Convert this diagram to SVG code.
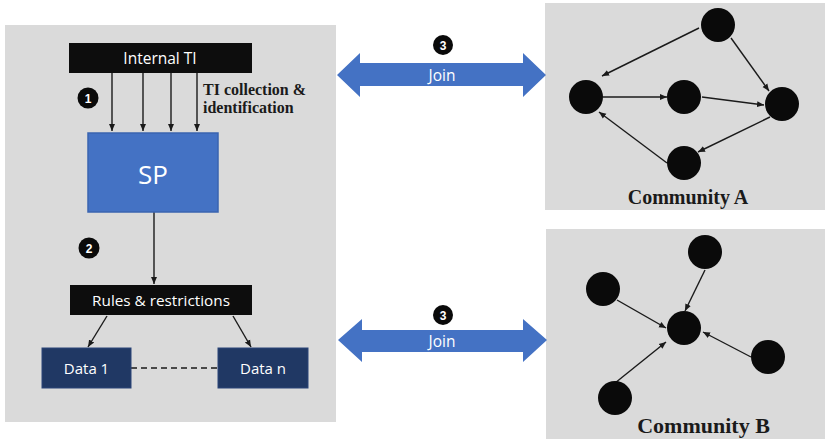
<svg xmlns="http://www.w3.org/2000/svg" width="827" height="439" viewBox="0 0 827 439">
<style>
.panel{fill:#dadada}
.bar{fill:#0d0d0d}
.data{fill:#203864;stroke:#2a4478;stroke-width:1}
.lbl{font-family:"Open Sans","Liberation Sans",sans-serif;fill:#ffffff;text-anchor:middle}
.serif{font-family:"Liberation Serif","Times New Roman",serif;font-weight:bold;fill:#1a1a1a}
.edge{stroke:#1a1a1a;stroke-width:1.4;fill:none;marker-end:url(#ah)}
.node{fill:#0a0a0a}
.num{fill:#0a0a0a}
.numt{font-family:"Liberation Sans",sans-serif;font-weight:bold;font-size:12px;fill:#fff;text-anchor:middle}
.join{fill:#4472c4}
</style>
<defs>
<marker id="ah" markerWidth="8" markerHeight="8" refX="7" refY="4" orient="auto" markerUnits="userSpaceOnUse">
<path d="M0,1 L7,4 L0,7 Z" fill="#1a1a1a"/>
</marker>
</defs>
<rect width="827" height="439" fill="#ffffff"/>

<rect id="left-panel" class="panel" x="5" y="25" width="331" height="397"/>
<rect id="community-a-panel" class="panel" x="545" y="3" width="280" height="207"/>
<rect id="community-b-panel" class="panel" x="546" y="229" width="279" height="210"/>

<g id="connectors">
<line class="edge" x1="112" y1="73" x2="112" y2="131"/>
<line class="edge" x1="143" y1="73" x2="143" y2="131"/>
<line class="edge" x1="171" y1="73" x2="171" y2="131"/>
<line class="edge" x1="197" y1="73" x2="197" y2="131"/>
<line class="edge" x1="154" y1="212" x2="154" y2="284"/>
<line class="edge" x1="107" y1="316" x2="88" y2="347"/>
<line class="edge" x1="233" y1="316" x2="251" y2="347"/>
<line x1="131" y1="368" x2="218" y2="368" stroke="#1a1a1a" stroke-width="1.4" stroke-dasharray="6,4"/>
<!-- Community A -->
<line class="edge" x1="699" y1="28" x2="602" y2="76"/>
<line class="edge" x1="603" y1="97" x2="667" y2="97"/>
<line class="edge" x1="702" y1="97" x2="764" y2="105"/>
<line class="edge" x1="731" y1="38" x2="769" y2="91"/>
<line class="edge" x1="770" y1="117" x2="698" y2="152"/>
<line class="edge" x1="667" y1="163" x2="599" y2="112"/>
<!-- Community B -->
<line class="edge" x1="705" y1="270" x2="685" y2="311"/>
<line class="edge" x1="617" y1="300" x2="666" y2="328"/>
<line class="edge" x1="751" y1="357" x2="703" y2="332"/>
<line class="edge" x1="615" y1="383" x2="666" y2="342"/>
</g>

<g id="internal-ti">
<rect class="bar" x="69" y="43" width="183" height="30"/>
<text class="lbl" x="160" y="64" font-size="15.5">Internal TI</text>
</g>

<g id="ti-collection-label">
<text class="serif" x="203" y="95" font-size="16">TI collection &amp;</text>
<text class="serif" x="203" y="113" font-size="16">identification</text>
</g>

<g id="step1">
<circle class="num" cx="88" cy="98" r="10.5"/>
<text class="numt" x="88" y="102.5">1</text>
</g>

<g id="sp">
<rect x="88" y="133" width="130" height="79" fill="#4472c4" stroke="#3a64b0" stroke-width="1.5"/>
<text class="lbl" x="153" y="184" font-size="26">SP</text>
</g>

<g id="step2">
<circle class="num" cx="89" cy="248" r="10.5"/>
<text class="numt" x="89" y="252.5">2</text>
</g>

<g id="rules">
<rect class="bar" x="70" y="285" width="182" height="30"/>
<text class="lbl" x="161" y="306" font-size="15.3">Rules &amp; restrictions</text>
</g>

<g id="data1">
<rect class="data" x="42" y="348" width="89" height="40"/>
<text class="lbl" x="86.5" y="374" font-size="15">Data 1</text>
</g>

<g id="datan">
<rect class="data" x="218" y="348" width="90" height="40"/>
<text class="lbl" x="263" y="374" font-size="15">Data n</text>
</g>

<g id="join-top">
<polygon class="join" points="337,75 360,53 360,63 523,63 523,53 546,75 523,97 523,86 360,86 360,97"/>
<text class="lbl" x="442" y="80.5" font-size="15.5">Join</text>
<circle class="num" cx="443" cy="45" r="10"/>
<text class="numt" x="443" y="49.5">3</text>
</g>

<g id="join-bottom">
<polygon class="join" points="338,340 362,319 362,330 523,330 523,319 547,340 523,362 523,352 362,352 362,362"/>
<text class="lbl" x="442" y="346.5" font-size="15.5">Join</text>
<circle class="num" cx="443" cy="315" r="10"/>
<text class="numt" x="443" y="319.5">3</text>
</g>

<g id="community-a">
<circle id="a-top" class="node" cx="718" cy="25" r="17"/>
<circle id="a-left" class="node" cx="586" cy="97" r="17"/>
<circle id="a-mid" class="node" cx="684" cy="97" r="17"/>
<circle id="a-right" class="node" cx="782" cy="104" r="17"/>
<circle id="a-bottom" class="node" cx="684" cy="163" r="17"/>
<text class="serif" x="688" y="204" font-size="20" text-anchor="middle">Community A</text>
</g>

<g id="community-b">
<circle id="b-top" class="node" cx="705" cy="252" r="17"/>
<circle id="b-left" class="node" cx="603" cy="289" r="17"/>
<circle id="b-center" class="node" cx="684" cy="328" r="17"/>
<circle id="b-right" class="node" cx="768" cy="357" r="17"/>
<circle id="b-bottom" class="node" cx="615" cy="398" r="17"/>
<text class="serif" x="703.5" y="433" font-size="22" text-anchor="middle">Community B</text>
</g>
</svg>
